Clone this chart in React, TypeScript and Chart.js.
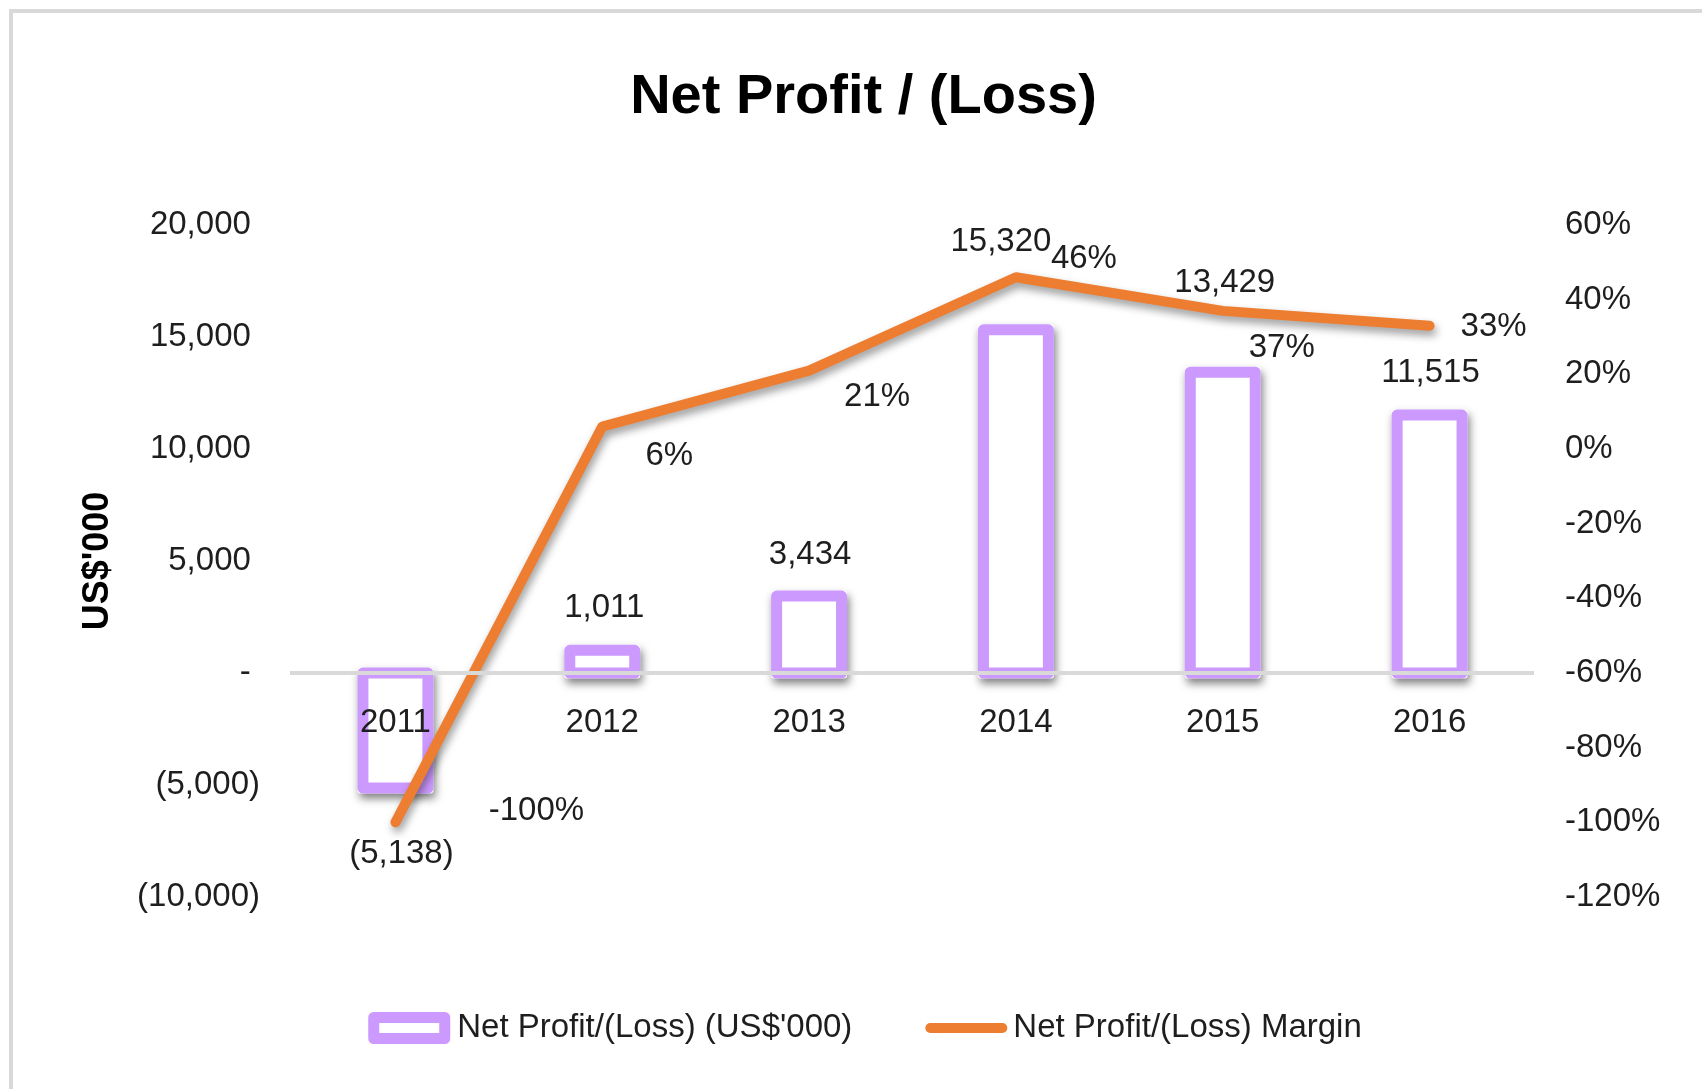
import React, { useEffect, useRef } from "react";
import { Chart, registerables } from "chart.js";

Chart.register(...registerables);

// ---- data ----
const categories = ["2011", "2012", "2013", "2014", "2015", "2016"];
const netProfit = [-5138, 1011, 3434, 15320, 13429, 11515]; // US$'000
const profitMargin = [-100, 6, 21, 46, 37, 33]; // %
const profitTicks = [-10000, -5000, 0, 5000, 10000, 15000, 20000];
const marginTicks = [-120, -100, -80, -60, -40, -20, 0, 20, 40, 60];
const seriesNames = ["Net Profit/(Loss) (US$'000)", "Net Profit/(Loss) Margin"];
const chartTitle = "Net Profit / (Loss)";
const axisTitle = "US$'000";

// ---- label placement (pixel offsets from each mark, as Excel placed them) ----
const barLabelOffsets = [[6, 66], [2, -42], [1, -41], [-15, -88], [2, -89], [1, -42]];
const lineLabelOffsets = [[141, -11], [67, 29], [68, 26], [68, -18], [59, 37], [64, 1]];

// ---- styles ----
const FONT = '"Liberation Sans", Arial, sans-serif';
const TEXT = "#1e1e1e";
const PURPLE = "#CC99FF";
const ORANGE = "#ED7D31";
const GRID = "#D9D9D9";
const BAR_BORDER = 11;
const LABEL_SIZE = 33;
const CANVAS_W = 1727;
const CANVAS_H = 1089;

function fmtThousands(v: number): string {
  const s = Math.abs(Math.round(v)).toLocaleString("en-US");
  if (v < 0) return `(${s})`;
  if (v === 0) return "-";
  return s;
}

const effectsPlugin = {
  id: "excelEffects",
  beforeDatasetDraw(chart: any, args: any) {
    const ctx = chart.ctx;
    if (args.index === 0) {
      ctx.save();
      ctx.shadowColor = "rgba(0,0,0,0.5)";
      ctx.shadowBlur = 9;
      ctx.shadowOffsetX = 2;
      ctx.shadowOffsetY = 5;
      ctx.fillStyle = "#ffffff";
      args.meta.data.forEach((el: any) => {
        const { x, y, base, width } = el.getProps(["x", "y", "base", "width"], true);
        const half = BAR_BORDER / 2;
        const top = Math.min(y, base) - half;
        const h = Math.abs(base - y) + BAR_BORDER;
        ctx.beginPath();
        ctx.roundRect(x - width / 2 - half, top, width + BAR_BORDER, h, 3);
        ctx.fill();
      });
      ctx.restore();
    } else if (args.index === 1) {
      ctx.save();
      ctx.shadowColor = "rgba(0,0,0,0.4)";
      ctx.shadowBlur = 8;
      ctx.shadowOffsetX = 2;
      ctx.shadowOffsetY = 5;
    }
  },
  afterDatasetDraw(chart: any, args: any) {
    const ctx = chart.ctx;
    if (args.index === 0) {
      ctx.save();
      ctx.strokeStyle = PURPLE;
      ctx.lineWidth = BAR_BORDER;
      ctx.lineJoin = "round";
      args.meta.data.forEach((el: any) => {
        const { x, y, base, width } = el.getProps(["x", "y", "base", "width"], true);
        const top = Math.min(y, base);
        const h = Math.abs(base - y);
        ctx.strokeRect(x - width / 2, top, width, h);
      });
      ctx.restore();
    } else if (args.index === 1) {
      ctx.restore();
    }
  },
  afterDraw(chart: any) {
    const ctx = chart.ctx;
    ctx.save();
    ctx.font = `${LABEL_SIZE}px ${FONT}`;
    ctx.fillStyle = TEXT;
    ctx.textAlign = "center";
    ctx.textBaseline = "middle";
    const barMeta = chart.getDatasetMeta(0);
    barMeta.data.forEach((el: any, i: number) => {
      const [dx, dy] = barLabelOffsets[i];
      ctx.fillText(fmtThousands(netProfit[i]), el.x + dx, el.y + dy);
    });
    const lineMeta = chart.getDatasetMeta(1);
    lineMeta.data.forEach((el: any, i: number) => {
      const [dx, dy] = lineLabelOffsets[i];
      ctx.fillText(`${profitMargin[i]}%`, el.x + dx, el.y + dy);
    });

    // legend
    const ly = chart.chartArea.bottom + 131;
    const symW = 82;
    const symH = 32;
    const gap = 7;
    const between = 73;
    const w1 = ctx.measureText(seriesNames[0]).width;
    const w2 = ctx.measureText(seriesNames[1]).width;
    const total = symW + gap + w1 + between + symW + gap + w2;
    const tb = chart.titleBlock;
    const cx = tb ? (tb.left + tb.right) / 2 + 2 : chart.width / 2;
    let x = cx - total / 2;
    ctx.strokeStyle = PURPLE;
    ctx.lineWidth = BAR_BORDER;
    ctx.lineJoin = "round";
    ctx.fillStyle = "#fff";
    const h = BAR_BORDER / 2;
    ctx.fillRect(x + h, ly - symH / 2 + h, symW - BAR_BORDER, symH - BAR_BORDER);
    ctx.strokeRect(x + h, ly - symH / 2 + h, symW - BAR_BORDER, symH - BAR_BORDER);
    x += symW + gap;
    ctx.fillStyle = TEXT;
    ctx.textAlign = "left";
    ctx.fillText(seriesNames[0], x, ly);
    x += w1 + between;
    ctx.strokeStyle = ORANGE;
    ctx.lineWidth = 10;
    ctx.lineCap = "round";
    ctx.beginPath();
    ctx.moveTo(x + 5, ly);
    ctx.lineTo(x + symW - 5, ly);
    ctx.stroke();
    x += symW + gap - 1;
    ctx.fillText(seriesNames[1], x, ly);
    ctx.restore();
  },
};

export default function App() {
  const ref = useRef<HTMLCanvasElement>(null);

  useEffect(() => {
    const canvas = ref.current;
    if (!canvas) return;
    const tickFont = { family: FONT, size: LABEL_SIZE };
    const chart = new Chart(canvas, {
      type: "bar",
      data: {
        labels: categories,
        datasets: [
          {
            type: "bar",
            label: seriesNames[0],
            data: netProfit,
            yAxisID: "y",
            backgroundColor: "#ffffff",
            borderWidth: 0,
            categoryPercentage: 1,
            barPercentage: 0.314,
            order: 2,
          },
          {
            type: "line",
            label: seriesNames[1],
            data: profitMargin,
            yAxisID: "y1",
            borderColor: ORANGE,
            backgroundColor: ORANGE,
            borderWidth: 10,
            borderCapStyle: "round",
            borderJoinStyle: "round",
            pointRadius: 0,
            tension: 0,
            order: 1,
          },
        ],
      } as any,
      plugins: [effectsPlugin],
      options: {
        responsive: false,
        animation: false,
        layout: { padding: { top: 64, left: 20, right: 20, bottom: 192 } },
        plugins: {
          legend: { display: false },
          tooltip: { enabled: false },
          title: {
            display: true,
            text: chartTitle,
            color: "#000",
            font: { family: FONT, size: 56, weight: "bold" },
            padding: { top: 0, bottom: 93.8 },
          },
        },
        scales: {
          x: {
            position: { y: 0 } as any,
            grid: { display: false, drawTicks: false },
            border: { display: true, color: GRID, width: 4, z: 1 },
            ticks: { font: tickFont, color: TEXT, padding: 30, maxRotation: 0, z: 1 },
            afterFit: (s: any) => {
              s.height = 0;
            },
          },
          y: {
            position: "left",
            min: profitTicks[0],
            max: profitTicks[profitTicks.length - 1],
            ticks: {
              stepSize: profitTicks[1] - profitTicks[0],
              font: tickFont,
              color: TEXT,
              padding: 32,
              callback: (v: any) => {
                const n = Number(v);
                return n < 0 ? fmtThousands(n) : fmtThousands(n) + " ";
              },
            },
            grid: { display: false, drawTicks: false },
            border: { display: false },
            title: {
              display: true,
              text: axisTitle,
              color: "#000",
              font: { family: FONT, size: 36, weight: "bold" },
              padding: { top: 56, bottom: 0 },
            },
            afterFit: (s: any) => {
              s.width = 272;
            },
          },
          y1: {
            position: "right",
            min: marginTicks[0],
            max: marginTicks[marginTicks.length - 1],
            ticks: {
              stepSize: marginTicks[1] - marginTicks[0],
              font: tickFont,
              color: TEXT,
              padding: 32,
              callback: (v: any) => `${Math.round(Number(v))}%`,
            },
            grid: { display: false, drawTicks: false },
            border: { display: false },
            afterFit: (s: any) => {
              s.width = 174;
            },
          },
        },
      } as any,
    });
    return () => chart.destroy();
  }, []);

  return (
    <div
      style={{
        position: "fixed",
        left: 0,
        top: 0,
        width: 1702,
        height: 1089,
        overflow: "hidden",
        background: "#ffffff",
      }}
    >
      <div
        style={{
          position: "absolute",
          left: 9,
          top: 9,
          width: 3000,
          height: 3000,
          borderTop: `4px solid ${GRID}`,
          borderLeft: `4px solid ${GRID}`,
        }}
      />
      <canvas
        ref={ref}
        width={CANVAS_W}
        height={CANVAS_H}
        style={{ position: "absolute", left: 0, top: 0, width: CANVAS_W, height: CANVAS_H }}
      />
    </div>
  );
}
